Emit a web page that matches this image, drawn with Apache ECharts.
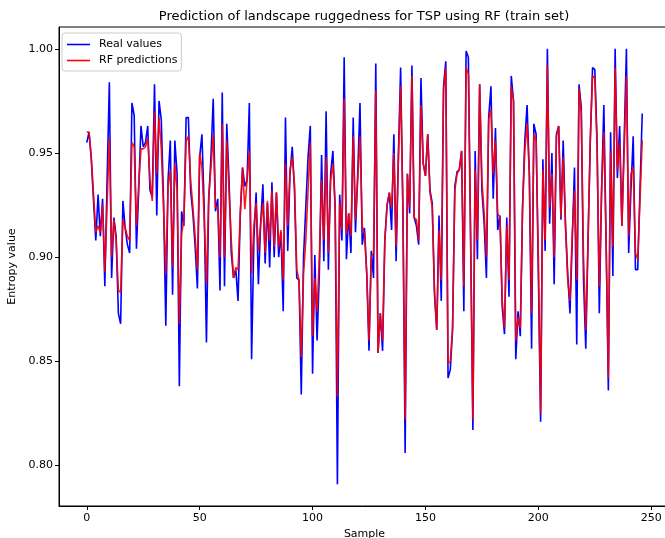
<!DOCTYPE html>
<html>
<head>
<meta charset="utf-8">
<script src="https://cdn.jsdelivr.net/npm/echarts@6/dist/echarts.min.js"></script>
<style>html,body{margin:0;padding:0;background:#fff}#chart{width:665px;height:538px}</style>
</head>
<body>
<div id="chart"></div>
<script>
const realValues = [
0.955,0.960,0.947,0.927,0.908,0.930,0.910,0.928,0.886,0.937,0.984,0.890,0.919,0.910,0.873,0.868,0.927,0.914,0.906,0.902,0.974,
0.968,0.904,0.932,0.963,0.953,0.955,0.963,0.932,0.929,0.983,0.920,0.975,0.966,0.927,0.867,0.937,0.956,0.882,0.956,0.940,0.838,
0.922,0.915,0.967,0.967,0.932,0.921,0.905,0.885,0.948,0.959,0.924,0.859,0.927,0.948,0.976,0.922,0.928,0.884,0.979,0.886,0.964,
0.937,0.902,0.890,0.894,0.879,0.921,0.943,0.934,0.937,0.974,0.851,0.908,0.931,0.887,0.916,0.935,0.897,0.926,0.895,0.936,0.900,
0.931,0.900,0.912,0.874,0.967,0.903,0.940,0.953,0.932,0.890,0.889,0.834,0.900,0.924,0.948,0.963,0.844,0.901,0.860,0.892,0.949,0.898,
0.970,0.894,0.940,0.951,0.924,0.791,0.930,0.908,0.996,0.899,0.921,0.902,0.967,0.912,0.940,0.974,0.906,0.914,0.892,0.855,0.903,
0.890,0.993,0.854,0.873,0.855,0.908,0.925,0.931,0.913,0.959,0.898,0.948,0.991,0.924,0.806,0.940,0.921,0.992,0.919,0.915,0.906,
0.986,0.945,0.939,0.959,0.932,0.926,0.882,0.865,0.920,0.879,0.982,0.994,0.842,0.846,0.865,0.934,0.941,0.942,0.951,0.874,0.999,
0.996,0.910,0.817,0.951,0.899,0.983,0.932,0.916,0.890,0.967,0.982,0.928,0.962,0.913,0.920,0.876,0.863,0.919,0.881,0.987,0.975,0.851,
0.874,0.862,0.924,0.956,0.973,0.940,0.856,0.964,0.959,0.892,0.821,0.947,0.903,1.000,0.916,0.950,0.887,0.959,0.963,0.918,0.956,
0.916,0.892,0.873,0.908,0.943,0.858,0.983,0.972,0.889,0.856,0.908,0.956,0.991,0.990,0.956,0.873,0.932,0.973,0.908,0.836,0.960,0.891,
1.000,0.938,0.963,0.915,0.956,1.000,0.902,0.932,0.958,0.894,0.894,0.932,0.969
];
const rfPredictions = [
0.960,0.960,0.948,0.930,0.912,0.915,0.912,0.925,0.893,0.925,0.957,0.900,0.918,0.908,0.884,0.883,0.918,0.914,0.910,0.908,0.955,
0.953,0.915,0.935,0.952,0.952,0.953,0.957,0.937,0.927,0.970,0.940,0.967,0.952,0.924,0.892,0.934,0.942,0.895,0.945,0.932,0.868,
0.911,0.918,0.956,0.958,0.937,0.924,0.910,0.894,0.950,0.943,0.919,0.887,0.929,0.943,0.959,0.924,0.924,0.900,0.964,0.900,0.956,
0.932,0.908,0.890,0.895,0.894,0.921,0.943,0.923,0.937,0.951,0.892,0.915,0.926,0.903,0.916,0.926,0.902,0.927,0.908,0.932,0.905,
0.931,0.905,0.913,0.889,0.945,0.915,0.942,0.948,0.935,0.894,0.889,0.852,0.892,0.908,0.932,0.955,0.862,0.890,0.874,0.900,0.937,0.908,
0.948,0.902,0.937,0.945,0.924,0.833,0.926,0.913,0.976,0.911,0.921,0.910,0.958,0.918,0.937,0.958,0.915,0.911,0.892,0.860,0.900,
0.902,0.980,0.854,0.873,0.860,0.908,0.925,0.931,0.924,0.950,0.905,0.947,0.982,0.924,0.822,0.940,0.924,0.987,0.919,0.918,0.908,
0.973,0.945,0.939,0.959,0.931,0.924,0.884,0.865,0.913,0.889,0.980,0.991,0.849,0.850,0.866,0.932,0.940,0.942,0.951,0.886,0.991,
0.988,0.908,0.822,0.942,0.908,0.983,0.937,0.921,0.900,0.966,0.971,0.940,0.956,0.921,0.919,0.879,0.866,0.915,0.889,0.982,0.975,0.860,
0.871,0.866,0.924,0.951,0.964,0.940,0.873,0.959,0.956,0.900,0.825,0.942,0.908,0.992,0.924,0.940,0.900,0.958,0.963,0.919,0.948,
0.915,0.889,0.879,0.911,0.932,0.889,0.981,0.969,0.900,0.865,0.908,0.956,0.987,0.986,0.953,0.886,0.932,0.960,0.908,0.842,0.951,0.905,
0.991,0.942,0.955,0.915,0.951,0.987,0.910,0.940,0.943,0.902,0.899,0.927,0.956
];
const xTicks = [0, 50, 100, 150, 200, 250];
const yTicks = [0.80, 0.85, 0.90, 0.95, 1.00];
const seriesNames = ['Real values', 'RF predictions'];

const FONT = 'DejaVu Sans';
const chart = echarts.init(document.getElementById('chart'), null, {renderer: 'canvas'});
const toPairs = arr => arr.map((v, i) => [i, v]);

chart.setOption({
  animation: false,
  backgroundColor: '#fff',
  title: {
    text: 'Prediction of landscape ruggedness for TSP using RF (train set)',
    left: 364, top: 10, textAlign: 'center', padding: 0,
    textStyle: {fontFamily: FONT, fontSize: 13, fontWeight: 'normal', color: '#000'}
  },
  legend: {
    orient: 'vertical', left: 62, top: 33,
    icon: 'rect', itemWidth: 23, itemHeight: 1.6, itemGap: 5,
    padding: [6, 4, 5, 5],
    borderColor: '#cccccc', borderWidth: 1, borderRadius: 3,
    backgroundColor: 'rgba(255,255,255,0.8)',
    textStyle: {fontFamily: FONT, fontSize: 11, color: '#000', padding: [0, 0, 0, 4]},
    data: seriesNames
  },
  grid: {left: 59, top: 27, width: 611, height: 479, show: true, borderColor: '#000', borderWidth: 1,
         containLabel: false, outerBoundsMode: 'none'},
  xAxis: {
    type: 'value', min: -12.3, max: 258.3,
    name: 'Sample', nameLocation: 'middle', nameGap: 21,
    nameTextStyle: {fontFamily: FONT, fontSize: 11, color: '#000'},
    axisLine: {onZero: false, lineStyle: {color: '#000', width: 1}},
    axisTick: {customValues: xTicks, length: 4, lineStyle: {color: '#000'}},
    axisLabel: {customValues: xTicks, fontFamily: FONT, fontSize: 11, color: '#000', margin: 7},
    splitLine: {show: false}
  },
  yAxis: {
    type: 'value', min: 0.7805, max: 1.0105,
    name: 'Entropy value', nameLocation: 'middle', nameGap: 36, nameRotate: 90,
    nameTextStyle: {fontFamily: FONT, fontSize: 11, color: '#000'},
    axisLine: {onZero: false, lineStyle: {color: '#000', width: 1}},
    axisTick: {customValues: yTicks, length: 4, lineStyle: {color: '#000'}},
    axisLabel: {customValues: yTicks, fontFamily: FONT, fontSize: 11, color: '#000', margin: 6,
      formatter: v => v.toFixed(2)},
    splitLine: {show: false}
  },
  series: [
    {name: seriesNames[0], type: 'line', data: toPairs(realValues), showSymbol: false, symbol: 'none',
     lineStyle: {color: '#0000ff', width: 1.6}, itemStyle: {color: '#0000ff'}},
    {name: seriesNames[1], type: 'line', data: toPairs(rfPredictions), showSymbol: false, symbol: 'none',
     lineStyle: {color: '#ff0000', width: 1.6, opacity: 0.9}, itemStyle: {color: '#ff0000'}}
  ]
});
</script>
</body>
</html>
